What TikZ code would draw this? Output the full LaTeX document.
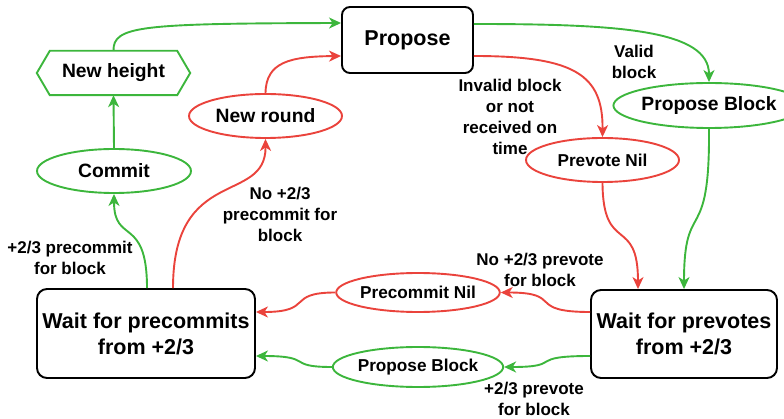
\documentclass[tikz,border=0pt]{standalone}
\usepackage{fontspec}
\setmainfont{Liberation Sans}
\usetikzlibrary{arrows.meta,shapes.geometric,calc}
\definecolor{cgreen}{RGB}{60,182,60}
\definecolor{cred}{RGB}{234,67,60}
\tikzset{
  bigbox/.style={draw=black,line width=1.9pt,rounded corners=10pt,font=\fontsize{21.5}{26}\selectfont\bfseries,align=center,inner sep=0pt},
  gell/.style={ellipse,draw=cgreen,line width=1.9pt,inner sep=0pt,font=\fontsize{19.3}{23}\selectfont\bfseries},
  rell/.style={ellipse,draw=cred,line width=1.9pt,inner sep=0pt,font=\fontsize{19.3}{23}\selectfont\bfseries},
  smallfont/.style={font=\fontsize{17.2}{21}\selectfont\bfseries},
  lbl/.style={font=\fontsize{17}{21}\selectfont\bfseries,align=center,inner sep=0pt},
  garrow/.style={draw=cgreen,line width=1.9pt,-{Stealth[length=12pt,width=11pt,inset=3.5pt]}},
  rarrow/.style={draw=cred,line width=1.9pt,-{Stealth[length=12pt,width=11pt,inset=3.5pt]}}
}
\begin{document}
\begin{tikzpicture}[x=1pt,y=-1pt]
\useasboundingbox (0,0) rectangle (784,419);
% nodes
\node[bigbox,minimum width=131pt,minimum height=66pt,rounded corners=8pt] (propose) at (407.5,40) {Propose};
\node[inner sep=0pt,minimum width=153pt,minimum height=44pt,font=\fontsize{19.3}{23}\selectfont\bfseries] (nh) at (113.5,73) {New height};
\draw[cgreen,line width=1.9pt,line join=miter] (nh.west) -- ([xshift=13pt]nh.north west) -- ([xshift=-13pt]nh.north east) -- (nh.east) -- ([xshift=-13pt]nh.south east) -- ([xshift=13pt]nh.south west) -- cycle;
\node[gell,minimum width=154pt,minimum height=44pt] (commit) at (114,171) {Commit};
\node[rell,minimum width=153pt,minimum height=44pt] (newround) at (265.5,116) {New round};
\node[gell,minimum width=147pt,minimum height=45pt] (pb1) at (709,105.5) {Propose Block};
\node[rell,minimum width=153pt,minimum height=44pt,smallfont] (pvnil) at (602.5,160) {Prevote Nil};
\node[bigbox,minimum width=218pt,minimum height=89pt] (waitpc) at (146,333.5) {Wait for precommits\\from +2/3};
\node[bigbox,minimum width=186pt,minimum height=88pt] (waitpv) at (684,334) {Wait for prevotes\\from +2/3};
\node[rell,minimum width=154pt,minimum height=39pt,smallfont] (pcnil) at (418,292.5) {Precommit Nil};
\node[gell,minimum width=154pt,minimum height=40pt,smallfont] (pb2) at (418,367) {Propose Block};
% labels
\node[lbl] (l1) at (634,62) {Valid\\block};
\node[lbl] (l2) at (510,116.5) {Invalid block\\or not\\received on\\time};
\node[lbl] (l3) at (280,214) {No +2/3\\precommit for\\block};
\node[lbl] (l4) at (70,257.5) {+2/3 precommit\\for block};
\node[lbl] (l5) at (540,269.5) {No +2/3 prevote\\for block};
\node[lbl] (l6) at (534,399) {+2/3 prevote\\for block};
% connectors
\coordinate (pwA) at ([yshift=17pt]propose.west);
\coordinate (pwB) at ([yshift=-16pt]propose.west);
\coordinate (peA) at ([yshift=16pt]propose.east);
\coordinate (peB) at ([yshift=-16pt]propose.east);
\coordinate (pcA) at ([xshift=1pt]waitpc.north);
\coordinate (pcB) at ([xshift=27pt]waitpc.north);
\coordinate (pcE1) at ([yshift=21.5pt]waitpc.east);
\coordinate (pcE2) at ([yshift=-22.5pt]waitpc.east);
\coordinate (pvA) at ([xshift=-46pt]waitpv.north);
\coordinate (pvB) at (waitpv.north);
\coordinate (pvW1) at ([yshift=22pt]waitpv.west);
\coordinate (pvW2) at ([yshift=-22pt]waitpv.west);

\draw[garrow] (nh.north) .. controls (113,26) and (140,23.5) .. (pwA);
\draw[rarrow] (newround.north) .. controls (266,62) and (290,56.5) .. (pwB);
\draw[garrow] (commit.north) -- (nh.south);
\draw[garrow] (pcA) .. controls (147,215) and (114,245) .. (commit.south);
\draw[rarrow] (pcB) .. controls (173,165) and (266,205) .. (newround.south);
\draw[garrow] (peA) .. controls (620,24) and (709,30) .. (pb1.north);
\draw[rarrow] (peB) .. controls (575,56) and (603,75) .. (pvnil.north);
\draw[rarrow] (pvnil.south) .. controls (603,255) and (638,215) .. (pvA);
\draw[garrow] (pb1.south) .. controls (710,250) and (684,195) .. (pvB);
\draw[rarrow] (pvW1) .. controls (525,312) and (565,292.5) .. (pcnil.east);
\draw[garrow] (pvW2) .. controls (525,356) and (565,367) .. (pb2.east);
\draw[rarrow] (pcnil.west) .. controls (285,292.5) and (315,312) .. (pcE1);
\draw[garrow] (pb2.west) .. controls (285,367) and (315,356) .. (pcE2);
\end{tikzpicture}
\end{document}
